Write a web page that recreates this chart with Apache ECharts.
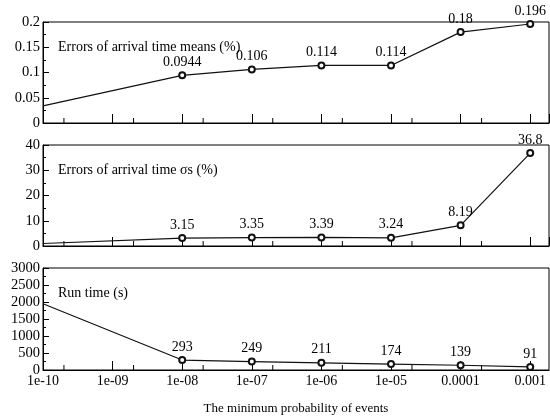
<!DOCTYPE html>
<html>
<head>
<meta charset="utf-8">
<script src="https://cdn.jsdelivr.net/npm/echarts@6/dist/echarts.min.js"></script>
<style>html,body{margin:0;padding:0;background:#fff;}#c{width:550px;height:416px;}</style>
</head>
<body>
<div id="c"></div>
<script>
// exponent (log10) of the minimum probability of events
var xExp = [-10, -8, -7, -6, -5, -4, -3];
var xTickLabels = ["1e-10", "1e-09", "1e-08", "1e-07", "1e-06", "1e-05", "0.0001", "0.001"];
var minorTickExp = [-9.699, -8.699, -7.699, -6.699, -5.699, -4.699, -3.699];
var meanErr = [0.034, 0.0944, 0.106, 0.114, 0.114, 0.18, 0.196];
var sigmaErr = [1.0, 3.15, 3.35, 3.39, 3.24, 8.19, 36.8];
var runTime = [1950, 293, 249, 211, 174, 139, 91];
var panelTitles = ["Errors of arrival time means (%)", "Errors of arrival time \u03c3s (%)", "Run time (s)"];

var FONT = "'Liberation Serif', 'DejaVu Serif', serif";
var grids = [
  {left: 43, right: 1, top: 22, height: 101},
  {left: 43, right: 1, top: 145, height: 101},
  {left: 43, right: 1, top: 268, height: 102}
];
grids.forEach(function(g){ g.show = true; g.borderColor = '#000'; g.borderWidth = 1; g.backgroundColor = 'transparent'; });

function mkX(i, showLabels) {
  var ax = {
    type: 'value', gridIndex: i, min: -10, max: -2.73, interval: 1,
    axisLine: {show: true, lineStyle: {color: '#000', width: 1}},
    axisTick: {show: true, inside: true, length: 9, lineStyle: {color: '#000'}},
    splitLine: {show: false},
    axisLabel: {
      show: showLabels, showMaxLabel: false, color: '#000', fontFamily: FONT, fontSize: 14, margin: 4,
      formatter: function(v){ var k = Math.round(v + 10); return Math.abs(v + 10 - k) < 1e-6 ? (xTickLabels[k] || '') : ''; }
    }
  };
  if (showLabels) {
    ax.name = 'The minimum probability of events';
    ax.nameLocation = 'middle';
    ax.nameGap = 32;
    ax.nameTextStyle = {color: '#000', fontFamily: FONT, fontSize: 13};
  }
  return ax;
}
function mkY(i, max, interval) {
  return {
    type: 'value', gridIndex: i, min: 0, max: max, interval: interval,
    axisLine: {show: true, lineStyle: {color: '#000', width: 1}},
    axisTick: {show: true, inside: true, length: 6, lineStyle: {color: '#000'}},
    minorTick: {show: true, splitNumber: 2, length: 3, lineStyle: {color: '#000'}},
    splitLine: {show: false},
    axisLabel: {color: '#000', fontFamily: FONT, fontSize: 14.5, margin: 3,
      formatter: function(v){ return String(v); }}
  };
}
function lineSeries(i, vals) {
  return {
    type: 'line', xAxisIndex: i, yAxisIndex: i,
    data: xExp.map(function(x, k){
      var item = {value: [x, vals[k]]};
      if (k === 0) { item.symbol = 'none'; item.label = {show: false}; }
      return item;
    }),
    symbol: 'emptyCircle', symbolSize: 6,
    lineStyle: {color: '#111', width: 1.2},
    itemStyle: {color: '#111', borderColor: '#111', borderWidth: 1.3},
    label: {show: true, position: 'top', distance: 2, color: '#000', fontFamily: FONT, fontSize: 14,
      formatter: function(p){ return String(p.value[1]); }},
    animation: false, z: 5
  };
}
function minorSeries(i) {
  return {
    type: 'custom', xAxisIndex: i, yAxisIndex: i, silent: true, animation: false,
    data: minorTickExp.map(function(e){ return [e, 0]; }),
    renderItem: function(params, api){
      var p = api.coord([api.value(0), api.value(1)]);
      return {type: 'line', shape: {x1: p[0], y1: p[1], x2: p[0], y2: p[1] - 5}, style: {stroke: '#000', lineWidth: 1}};
    }
  };
}
var titles = panelTitles.map(function(t, i){
  return {text: t, left: 58, top: [40, 163, 286][i], padding: 0,
    textStyle: {color: '#000', fontFamily: FONT, fontSize: 14, fontWeight: 'normal'}};
});
var chart = echarts.init(document.getElementById('c'));
chart.setOption({
  animation: false,
  backgroundColor: '#fff',
  title: titles,
  grid: grids,
  xAxis: [mkX(0, false), mkX(1, false), mkX(2, true)],
  yAxis: [mkY(0, 0.2, 0.05), mkY(1, 40, 10), mkY(2, 3000, 500)],
  series: [lineSeries(0, meanErr), lineSeries(1, sigmaErr), lineSeries(2, runTime),
    minorSeries(0), minorSeries(1), minorSeries(2)]
});
</script>
</body>
</html>
